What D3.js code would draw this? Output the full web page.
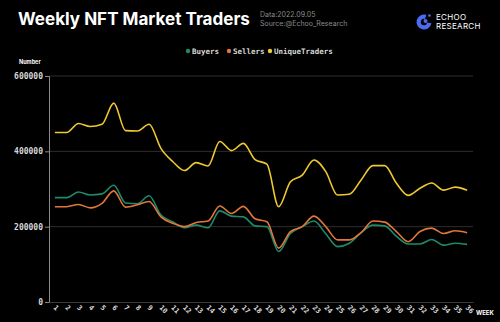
<!DOCTYPE html>
<html><head><meta charset="utf-8">
<script src="https://cdn.jsdelivr.net/npm/d3@7"></script>
<style>
html,body{margin:0;padding:0;background:#000;}
svg{display:block;}
</style></head>
<body>
<svg id="chart" width="500" height="322"></svg>
<script>
const weeks = d3.range(1, 37).map(String);
const buyers = [277000,277000,292000,284000,287000,310000,263000,261000,282000,231000,213000,197000,204000,197000,242000,228000,226000,202000,200000,134000,182000,200000,215000,181000,147000,156000,184000,204000,202000,174000,154000,154000,166000,151000,156000,153000];
const sellers = [253000,253000,259000,250000,262000,295000,252000,258000,267000,226000,209000,200000,211000,215000,255000,235000,254000,221000,213000,143000,187000,200000,228000,200000,165000,165000,184000,215000,212000,187000,160000,187000,196000,182000,189000,184000];
const uniqueTraders = [450000,450000,474000,466000,472000,528000,455000,454000,472000,408000,373000,349000,370000,361000,426000,402000,421000,378000,366000,253000,319000,337000,377000,346000,284000,286000,324000,362000,362000,315000,283000,302000,316000,297000,305000,297000];
const yTicks = [0, 200000, 400000, 600000];
const seriesNames = ["Buyers", "Sellers", "UniqueTraders"];
const seriesColors = ["#1d8a6c", "#e2773a", "#eec92f"];

const svg = d3.select("#chart");
svg.append("rect").attr("width",500).attr("height",322).attr("fill","#000");

const x = d3.scaleBand().domain(weeks).range([49, 473]);
const y = d3.scaleLinear().domain([0, 600000]).range([302, 76]);
const mono = "'DejaVu Sans Mono', monospace";

// grid
svg.append("g").selectAll("line").data(yTicks.filter(d=>d>0)).join("line")
  .attr("x1",49).attr("x2",473).attr("y1",d=>y(d)).attr("y2",d=>y(d))
  .attr("stroke","#2e2e2e").attr("stroke-width",1);

// y axis
const yAxis = svg.append("g").attr("transform","translate(49,0)")
  .call(d3.axisLeft(y).tickValues(yTicks).tickFormat(d=>String(d)).tickSize(4).tickPadding(2));
yAxis.select(".domain").attr("stroke","#8a8a8a");
yAxis.selectAll(".tick line").attr("stroke","#8a8a8a");
yAxis.selectAll("text").attr("fill","#d8d8d8").style("font-family",mono).style("font-size","8px").style("font-weight","bold");

// x axis
const xAxis = svg.append("g").attr("transform","translate(0,302)")
  .call(d3.axisBottom(x).tickSize(0).tickPadding(0));
xAxis.select(".domain").attr("stroke","#3a3a3a");
xAxis.selectAll("text")
  .attr("fill","#d8d8d8").style("font-family",mono).style("font-size","7px").style("font-weight","bold")
  .attr("text-anchor","start").attr("dy",null).attr("y",0)
  .attr("transform","translate(-2,6) rotate(45)");

// lines
const line = d3.line().x((d,i)=>x(weeks[i]) + x.bandwidth()/2).y(d=>y(d)).curve(d3.curveMonotoneX);
[uniqueTraders, buyers, sellers].forEach((s, k) => {
  const idx = [2,0,1][k];
  svg.append("path").datum(s).attr("d", line).attr("fill","none")
    .attr("stroke", seriesColors[idx]).attr("stroke-width",1.6).attr("stroke-linejoin","round");
});

// title
const title = svg.append("text").attr("x",18).attr("y",25).text("Weekly NFT Market Traders")
  .attr("fill","#fff").style("font-family","Inter, 'Open Sans', sans-serif").style("font-weight","bold").style("font-size","19px");
const tl = title.node().getComputedTextLength();
title.style("font-size", (19*232/tl).toFixed(2)+"px");

svg.append("text").attr("x",260).attr("y",17).text("Data:2022.09.05")
  .attr("fill","#8a8a8a").style("font-family","Inter, sans-serif").style("font-size","7px");
svg.append("text").attr("x",260).attr("y",25.5).text("Source:@Echoo_Research")
  .attr("fill","#8a8a8a").style("font-family","Inter, sans-serif").style("font-size","7px");

// logo
const logo = svg.append("g").attr("transform","translate(424,22)");
logo.append("path").attr("d", d3.arc()({innerRadius:3.2, outerRadius:7.5, startAngle:Math.PI*0.55, endAngle:Math.PI*2.1}))
  .attr("fill","#4a6cf0");
logo.append("circle").attr("cx",1.5).attr("cy",-1).attr("r",2).attr("fill","#4a6cf0");
logo.append("circle").attr("cx",5.5).attr("cy",-6.5).attr("r",1.3).attr("fill","#4a6cf0");
svg.append("text").attr("x",436).attr("y",20).text("ECHOO")
  .attr("fill","#fff").style("font-family","Inter, sans-serif").style("font-size","8px").style("letter-spacing","0.3px");
svg.append("text").attr("x",436).attr("y",29).text("RESEARCH")
  .attr("fill","#fff").style("font-family","Inter, sans-serif").style("font-size","8px").style("letter-spacing","0.3px");

// legend
const legendX = [188, 229, 270];
const lg = svg.append("g").selectAll("g").data(seriesNames).join("g")
  .attr("transform",(d,i)=>`translate(${legendX[i]},51)`);
lg.append("circle").attr("r",2.2).attr("fill",(d,i)=>seriesColors[i]);
lg.append("text").attr("x",4).attr("y",2.8).text(d=>d)
  .attr("fill","#d8d8d8").style("font-family",mono).style("font-size","7.5px").style("font-weight","bold");

// axis names
svg.append("text").attr("x",19).attr("y",64).text("Number")
  .attr("fill","#fff").style("font-family","Inter, sans-serif").style("font-size","5.5px").style("font-weight","bold");
svg.append("text").attr("x",476).attr("y",315).text("WEEK")
  .attr("fill","#fff").style("font-family","Inter, sans-serif").style("font-size","6px").style("font-weight","bold");
</script>
</body></html>
